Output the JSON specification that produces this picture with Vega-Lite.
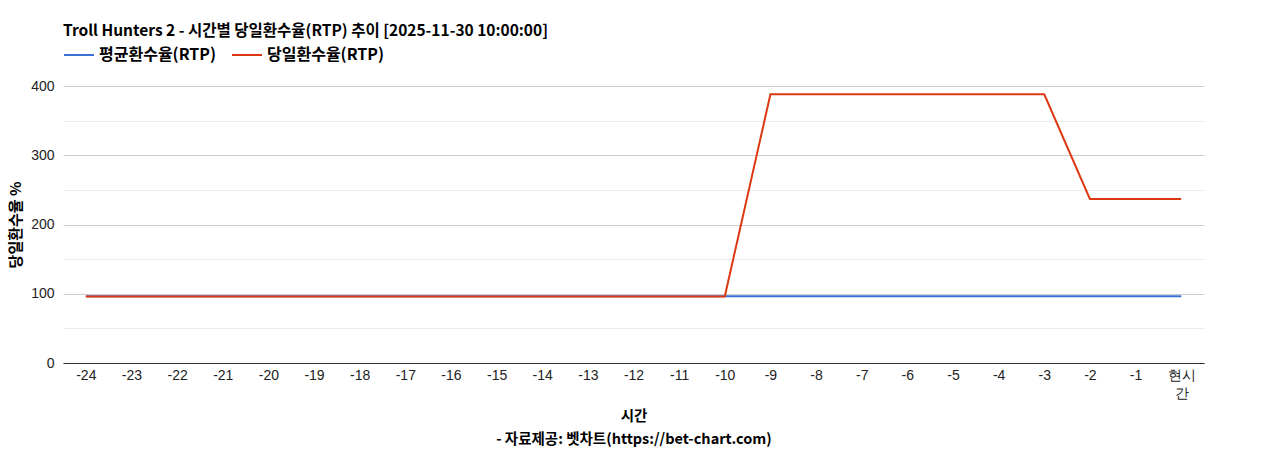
{
  "$schema": "https://vega.github.io/schema/vega-lite/v6.json",
  "width": 1141,
  "height": 277,
  "autosize": {"type": "none"},
  "padding": {"left": 63, "top": 86, "right": 64, "bottom": 87},
  "background": "white",
  "title": {
    "text": "Troll Hunters 2 - 시간별 당일환수율(RTP) 추이 [2025-11-30 10:00:00]",
    "anchor": "start",
    "frame": "group",
    "font": "Noto Sans CJK KR",
    "fontSize": 15.5,
    "fontWeight": "bold",
    "color": "#000000",
    "offset": 0
  },
  "config": {
    "view": {"stroke": null},
    "font": "Liberation Sans"
  },
  "data": {
    "values": [
      {"t": "-24", "series": "평균환수율(RTP)", "v": 96.5},
      {"t": "-23", "series": "평균환수율(RTP)", "v": 96.5},
      {"t": "-22", "series": "평균환수율(RTP)", "v": 96.5},
      {"t": "-21", "series": "평균환수율(RTP)", "v": 96.5},
      {"t": "-20", "series": "평균환수율(RTP)", "v": 96.5},
      {"t": "-19", "series": "평균환수율(RTP)", "v": 96.5},
      {"t": "-18", "series": "평균환수율(RTP)", "v": 96.5},
      {"t": "-17", "series": "평균환수율(RTP)", "v": 96.5},
      {"t": "-16", "series": "평균환수율(RTP)", "v": 96.5},
      {"t": "-15", "series": "평균환수율(RTP)", "v": 96.5},
      {"t": "-14", "series": "평균환수율(RTP)", "v": 96.5},
      {"t": "-13", "series": "평균환수율(RTP)", "v": 96.5},
      {"t": "-12", "series": "평균환수율(RTP)", "v": 96.5},
      {"t": "-11", "series": "평균환수율(RTP)", "v": 96.5},
      {"t": "-10", "series": "평균환수율(RTP)", "v": 96.5},
      {"t": "-9", "series": "평균환수율(RTP)", "v": 96.5},
      {"t": "-8", "series": "평균환수율(RTP)", "v": 96.5},
      {"t": "-7", "series": "평균환수율(RTP)", "v": 96.5},
      {"t": "-6", "series": "평균환수율(RTP)", "v": 96.5},
      {"t": "-5", "series": "평균환수율(RTP)", "v": 96.5},
      {"t": "-4", "series": "평균환수율(RTP)", "v": 96.5},
      {"t": "-3", "series": "평균환수율(RTP)", "v": 96.5},
      {"t": "-2", "series": "평균환수율(RTP)", "v": 96.5},
      {"t": "-1", "series": "평균환수율(RTP)", "v": 96.5},
      {"t": "현시간", "series": "평균환수율(RTP)", "v": 96.5},
      {"t": "-24", "series": "당일환수율(RTP)", "v": 96},
      {"t": "-23", "series": "당일환수율(RTP)", "v": 96},
      {"t": "-22", "series": "당일환수율(RTP)", "v": 96},
      {"t": "-21", "series": "당일환수율(RTP)", "v": 96},
      {"t": "-20", "series": "당일환수율(RTP)", "v": 96},
      {"t": "-19", "series": "당일환수율(RTP)", "v": 96},
      {"t": "-18", "series": "당일환수율(RTP)", "v": 96},
      {"t": "-17", "series": "당일환수율(RTP)", "v": 96},
      {"t": "-16", "series": "당일환수율(RTP)", "v": 96},
      {"t": "-15", "series": "당일환수율(RTP)", "v": 96},
      {"t": "-14", "series": "당일환수율(RTP)", "v": 96},
      {"t": "-13", "series": "당일환수율(RTP)", "v": 96},
      {"t": "-12", "series": "당일환수율(RTP)", "v": 96},
      {"t": "-11", "series": "당일환수율(RTP)", "v": 96},
      {"t": "-10", "series": "당일환수율(RTP)", "v": 96},
      {"t": "-9", "series": "당일환수율(RTP)", "v": 388},
      {"t": "-8", "series": "당일환수율(RTP)", "v": 388},
      {"t": "-7", "series": "당일환수율(RTP)", "v": 388},
      {"t": "-6", "series": "당일환수율(RTP)", "v": 388},
      {"t": "-5", "series": "당일환수율(RTP)", "v": 388},
      {"t": "-4", "series": "당일환수율(RTP)", "v": 388},
      {"t": "-3", "series": "당일환수율(RTP)", "v": 388},
      {"t": "-2", "series": "당일환수율(RTP)", "v": 237},
      {"t": "-1", "series": "당일환수율(RTP)", "v": 237},
      {"t": "현시간", "series": "당일환수율(RTP)", "v": 237}
    ]
  },
  "encoding": {
    "x": {
      "field": "t",
      "type": "ordinal",
      "sort": null,
      "scale": {"type": "point", "padding": 0.5},
      "axis": {
        "title": ["시간", "- 자료제공: 벳차트(https://bet-chart.com)"],
        "titleFont": "Noto Sans CJK KR",
        "titleFontSize": 14.5,
        "titleFontWeight": "bold",
        "titleColor": "#000000",
        "titleLineHeight": 23,
        "titlePadding": 9,
        "labelAngle": 0,
        "labelFontSize": 14,
        "labelColor": "#222222",
        "labelPadding": 5,
        "labelLineHeight": 18,
        "labelExpr": "datum.label == '현시간' ? ['현시', '간'] : datum.label",
        "ticks": false,
        "grid": false,
        "domainColor": "#333333",
        "domainWidth": 1
      }
    },
    "y": {
      "field": "v",
      "type": "quantitative",
      "scale": {"domain": [0, 400], "nice": false},
      "axis": {
        "title": "당일환수율 %",
        "titleFont": "Noto Sans CJK KR",
        "titleFontSize": 15,
        "titleFontWeight": "bold",
        "titleColor": "#000000",
        "titlePadding": 7,
        "values": [0, 50, 100, 150, 200, 250, 300, 350, 400],
        "labelExpr": "datum.value % 100 == 0 ? datum.label : ''",
        "labelFontSize": 14,
        "labelColor": "#222222",
        "labelPadding": 9,
        "ticks": false,
        "domain": false,
        "gridColor": {"condition": {"test": "datum.value % 100 == 0", "value": "#cccccc"}, "value": "#ebebeb"},
        "gridWidth": 1
      }
    },
    "color": {
      "field": "series",
      "type": "nominal",
      "scale": {"domain": ["평균환수율(RTP)", "당일환수율(RTP)"], "range": ["#3a6fd6", "#dc3912"]},
      "legend": {
        "title": null,
        "orient": "none",
        "legendX": 0,
        "legendY": -47,
        "direction": "horizontal",
        "symbolType": "stroke",
        "symbolSize": 900,
        "symbolStrokeWidth": 2,
        "labelFont": "Noto Sans CJK KR",
        "labelFontSize": 16,
        "labelFontWeight": "bold",
        "labelColor": "#000000",
        "labelOffset": 4,
        "columnPadding": 12
      }
    }
  },
  "layer": [
    {
      "transform": [{"filter": "datum.series == '평균환수율(RTP)'"}],
      "mark": {"type": "line", "strokeWidth": 2}
    },
    {
      "transform": [{"filter": "datum.series == '당일환수율(RTP)'"}],
      "mark": {"type": "line", "strokeWidth": 2}
    }
  ]
}
